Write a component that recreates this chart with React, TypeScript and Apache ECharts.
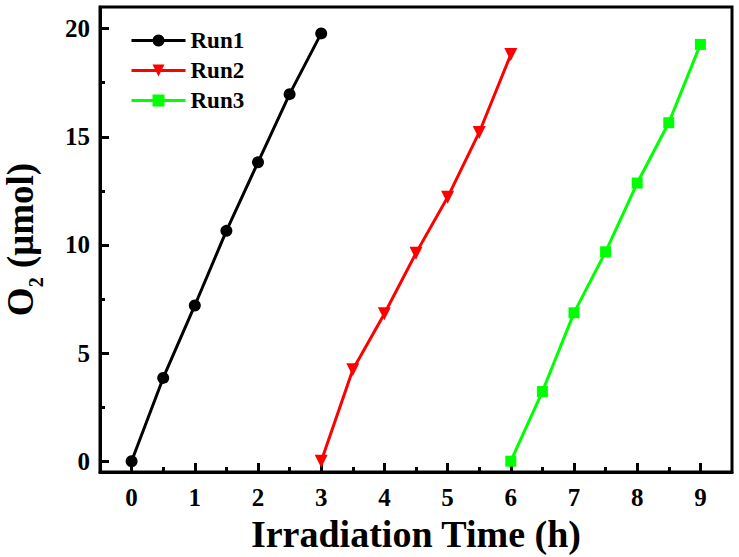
import React, { useEffect, useRef } from "react";
import * as echarts from "echarts";

const run1X = [0, 0.5, 1, 1.5, 2, 2.5, 3];
const run1Y = [0, 3.85, 7.2, 10.65, 13.82, 16.97, 19.78];
const run2X = [3, 3.5, 4, 4.5, 5, 5.5, 6];
const run2Y = [0, 4.23, 6.82, 9.62, 12.2, 15.2, 18.8];
const run3X = [6, 6.5, 7, 7.5, 8, 8.5, 9];
const run3Y = [0, 3.22, 6.86, 9.68, 12.86, 15.65, 19.27];

const xMajor = [0, 1, 2, 3, 4, 5, 6, 7, 8, 9];
const xMinor = [0.5, 1.5, 2.5, 3.5, 4.5, 5.5, 6.5, 7.5, 8.5];
const yMajor = [0, 5, 10, 15, 20];
const yMinor = [2.5, 7.5, 12.5, 17.5];

const FONT = "Liberation Serif";

export default function App() {
  const ref = useRef<HTMLDivElement>(null);
  useEffect(() => {
    if (!ref.current) return;
    const chart = echarts.init(ref.current, undefined, { renderer: "svg" });
    const pair = (xs: number[], ys: number[]) => xs.map((x, i) => [x, ys[i]]);
    const labelStyle = { fontFamily: FONT, fontWeight: "bold" as const, fontSize: 25, color: "#000" };
    const lineAx = { show: true, onZero: false, lineStyle: { color: "#000", width: 3 } };
    chart.setOption({
      animation: false,
      backgroundColor: "#fff",
      grid: {
        left: 100,
        right: 7,
        top: 7,
        bottom: 85,
        show: true,
        borderColor: "#000",
        borderWidth: 3,
        containLabel: false,
        outerBoundsMode: "none",
      },
      legend: {
        orient: "vertical",
        left: 125,
        top: 24,
        itemWidth: 54,
        itemHeight: 15,
        itemGap: 7,
        lineStyle: { width: 3 },
        textStyle: { fontFamily: FONT, fontWeight: "bold", fontSize: 23, color: "#000" },
        data: ["Run1", "Run2", "Run3"],
      },
      xAxis: [
        {
          type: "value",
          min: -0.5,
          max: 9.5,
          position: "bottom",
          name: "Irradiation Time (h)",
          nameLocation: "middle",
          nameGap: 41,
          nameTextStyle: { fontFamily: FONT, fontWeight: "bold", fontSize: 38, color: "#000" },
          axisLine: lineAx,
          axisTick: { show: true, inside: true, length: 9, lineStyle: { color: "#000", width: 3 }, customValues: xMajor },
          axisLabel: { ...labelStyle, margin: 13, customValues: xMajor },
          splitLine: { show: false },
        },
        {
          type: "value",
          min: -0.5,
          max: 9.5,
          position: "bottom",
          axisLine: { show: false, onZero: false },
          axisTick: { show: true, inside: true, length: 5, lineStyle: { color: "#000", width: 3 }, customValues: xMinor },
          axisLabel: { show: false },
          splitLine: { show: false },
        },
      ],
      yAxis: [
        {
          type: "value",
          min: -0.5,
          max: 21,
          position: "left",
          name: "O{sub|2} (μmol)",
          nameLocation: "middle",
          nameGap: 54,
          nameRotate: 90,
          nameTextStyle: {
            fontFamily: FONT,
            fontWeight: "bold",
            fontSize: 37,
            color: "#000",
            rich: {
              sub: {
                fontFamily: FONT,
                fontWeight: "bold",
                fontSize: 20,
                color: "#000",
                verticalAlign: "bottom",
                padding: [32, 0, 0, 0],
              },
            },
          },
          axisLine: lineAx,
          axisTick: { show: true, inside: true, length: 9, lineStyle: { color: "#000", width: 3 }, customValues: yMajor },
          axisLabel: { ...labelStyle, margin: 10, customValues: yMajor },
          splitLine: { show: false },
        },
        {
          type: "value",
          min: -0.5,
          max: 21,
          position: "left",
          axisLine: { show: false, onZero: false },
          axisTick: { show: true, inside: true, length: 5, lineStyle: { color: "#000", width: 3 }, customValues: yMinor },
          axisLabel: { show: false },
          splitLine: { show: false },
        },
      ],
      series: [
        {
          name: "Run1",
          type: "line",
          data: pair(run1X, run1Y),
          symbol: "circle",
          symbolSize: 12,
          itemStyle: { color: "#000" },
          lineStyle: { color: "#000", width: 3 },
        },
        {
          name: "Run2",
          type: "line",
          data: pair(run2X, run2Y),
          symbol: "triangle",
          symbolRotate: 180,
          symbolSize: 13,
          itemStyle: { color: "#ff0000" },
          lineStyle: { color: "#ff0000", width: 3 },
        },
        {
          name: "Run3",
          type: "line",
          data: pair(run3X, run3Y),
          symbol: "rect",
          symbolSize: 11,
          itemStyle: { color: "#00ff00" },
          lineStyle: { color: "#00ff00", width: 3 },
        },
      ],
    });
    return () => chart.dispose();
  }, []);
  return <div ref={ref} style={{ width: 739, height: 557, position: "absolute", left: 0, top: 0 }} />;
}
